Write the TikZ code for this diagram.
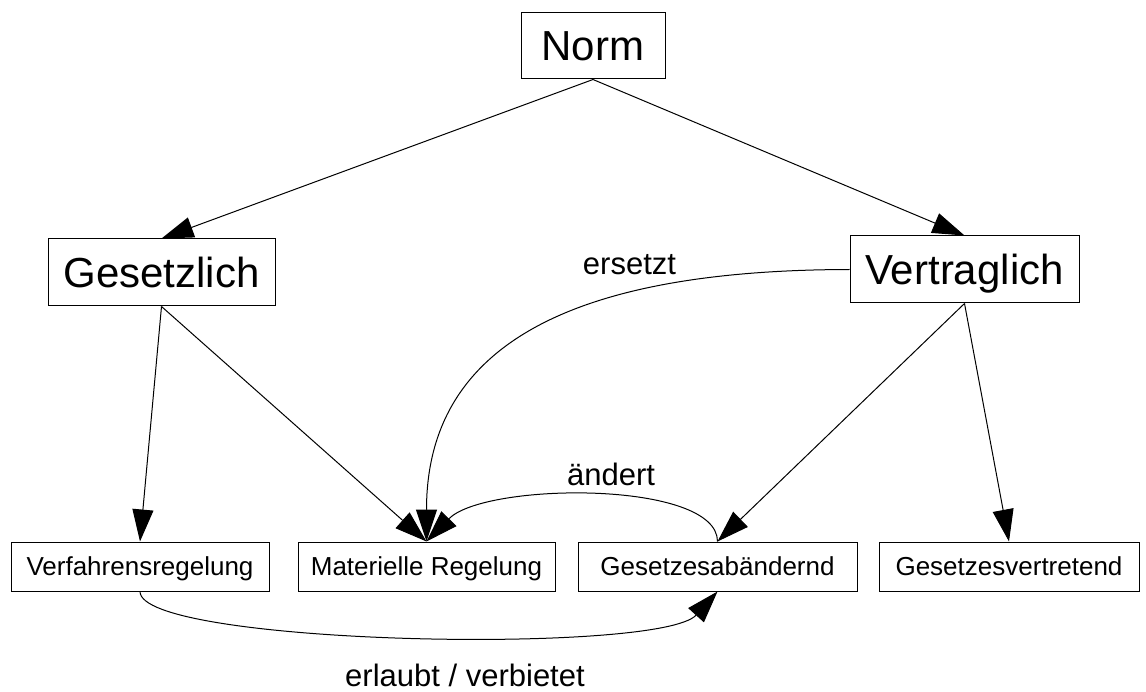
\documentclass[tikz,border=0pt]{standalone}
\usepackage{fontspec}
\setmainfont{Liberation Sans}
\usetikzlibrary{arrows.meta}
\begin{document}
\begin{tikzpicture}[x=1pt,y=-1pt,
  box/.style={draw=black, line width=1pt, inner sep=0pt, anchor=center, align=center},
  big/.style={box, font=\fontsize{42}{50}\selectfont, text height=30pt, text depth=0pt},
  small/.style={box, font=\fontsize{26}{31}\selectfont, text height=18.6pt, text depth=0pt, minimum height=49pt},
  lbl/.style={font=\fontsize{31}{37}\selectfont, anchor=base, inner sep=0pt},
  arr/.style={line width=1pt, -{Triangle[length=32pt,width=21pt]}}]
\useasboundingbox (0,0) rectangle (1146,692);
\node[big, minimum width=144pt, minimum height=66pt] (norm) at (593,46) {Norm};
\node[big, minimum width=227pt, minimum height=67pt] (ges) at (161.5,272.5) {Gesetzlich};
\node[big, minimum width=229pt, minimum height=67pt] (ver) at (964.5,269.5) {Vertraglich};
\node[small, minimum width=258pt] (vfr) at (140,566.5) {Verfahrensregelung};
\node[small, minimum width=257pt] (mat) at (426.5,566.5) {Materielle Regelung};
\node[small, minimum width=279pt] (gab) at (717.5,566.5) {Gesetzesabändernd};
\node[small, minimum width=260pt] (gvt) at (1009,566.5) {Gesetzesvertretend};
\draw[arr] (norm.south) -- (ges.north);
\draw[arr] (norm.south) -- (ver.north);
\draw[arr] (ges.south) -- (vfr.north);
\draw[arr] (ges.south) -- (mat.north);
\draw[arr] (ver.south) -- (gab.north);
\draw[arr] (ver.south) -- (gvt.north);
\draw[arr] (ver.west) .. controls (600,270) and (426.5,330) .. (mat.north);
\draw[arr] (gab.north) .. controls (717.5,480) and (485,482) .. (mat.north);
\draw[arr] (vfr.south) .. controls (140,645) and (660,655) .. (gab.south);
\node[lbl] (l1) at (629.5,275) {ersetzt};
\node[lbl] (l2) at (611,485) {ändert};
\node[lbl] (l3) at (465,686) {erlaubt / verbietet};
\end{tikzpicture}
\end{document}
